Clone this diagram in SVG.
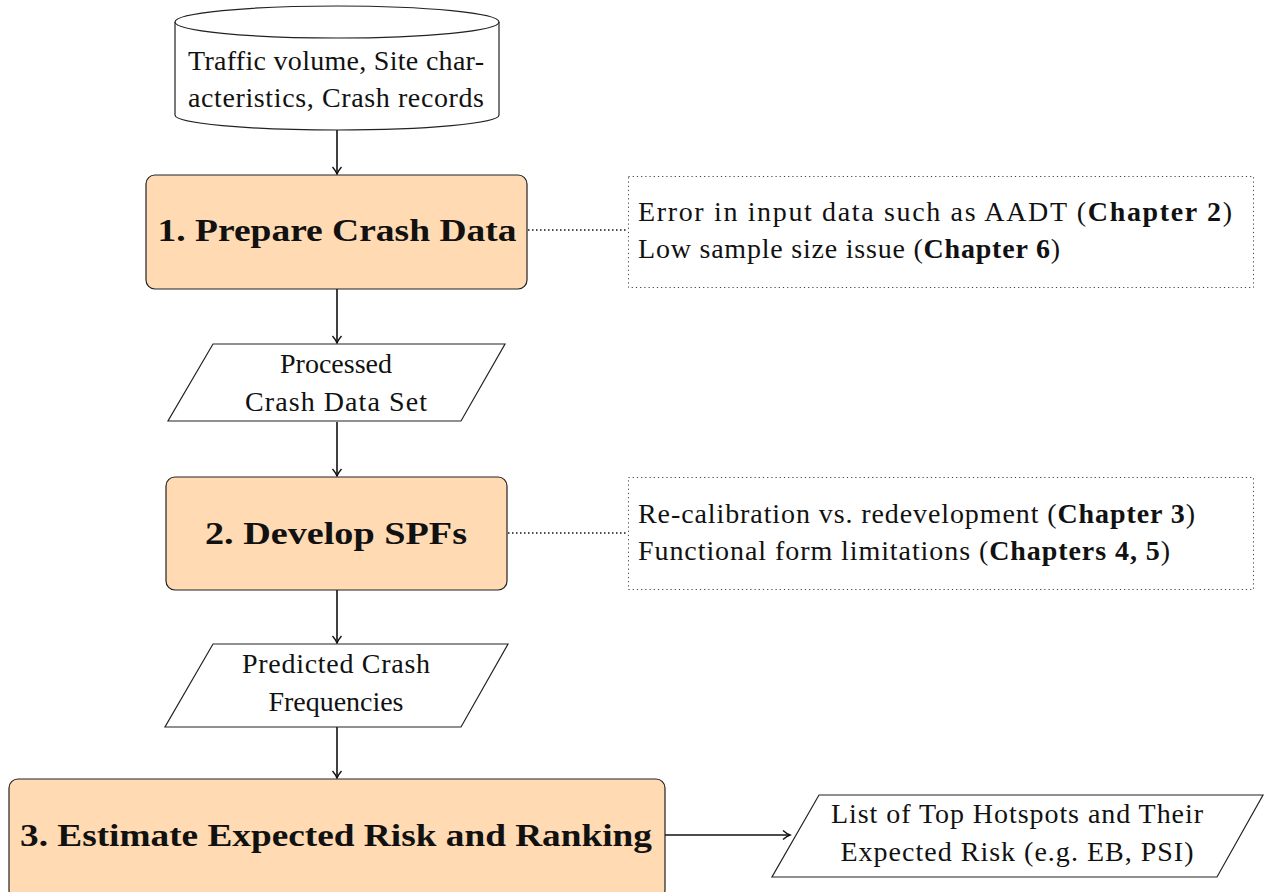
<svg xmlns="http://www.w3.org/2000/svg" width="1264" height="892" viewBox="0 0 1264 892">
<defs>
<style>
.t{font-family:"Liberation Serif","Times New Roman",serif;font-size:28px;fill:#111;}
.b{font-family:"Liberation Serif","Times New Roman",serif;font-size:32px;font-weight:bold;fill:#111;}
.tb{font-weight:bold;}
.shape{fill:#fff;stroke:#222;stroke-width:1.2;}
.proc{fill:#FFDAB2;stroke:#222;stroke-width:1.2;}
.note{fill:none;stroke:#444;stroke-width:1;stroke-dasharray:1.2 3;}
.arrow{fill:none;stroke:#111;stroke-width:1.6;marker-end:url(#ah);}
.dot{fill:none;stroke:#111;stroke-width:1.6;stroke-dasharray:1.5 2.5;}
</style>
<marker id="ah" markerWidth="12" markerHeight="12" refX="10" refY="6" orient="auto" markerUnits="userSpaceOnUse">
<path d="M3,1.5 Q7,5 10,6 Q7,7 3,10.5" fill="none" stroke="#111" stroke-width="1.4"/>
</marker>
</defs>
<rect width="1264" height="892" fill="#fff"/>

<g id="connectors">
<line class="arrow" x1="337" y1="130" x2="337" y2="174"/>
<line class="arrow" x1="337" y1="289" x2="337" y2="343"/>
<line class="arrow" x1="337" y1="422" x2="337" y2="476"/>
<line class="arrow" x1="337" y1="590" x2="337" y2="643"/>
<line class="arrow" x1="337" y1="727" x2="337" y2="778"/>
<line class="arrow" x1="665" y1="835" x2="790" y2="835"/>
<line class="dot" x1="528" y1="230" x2="628" y2="230"/>
<line class="dot" x1="508" y1="533" x2="628" y2="533"/>
</g>

<g id="data">
<path class="shape" d="M175,22 L175,115 A162,15 0 0 0 499,115 L499,22"/>
<ellipse class="shape" cx="337" cy="22" rx="162" ry="16"/>
<text class="t" x="336" y="70" text-anchor="middle" textLength="296" lengthAdjust="spacing">Traffic volume, Site char-</text>
<text class="t" x="336" y="107" text-anchor="middle" textLength="296" lengthAdjust="spacing">acteristics, Crash records</text>
</g>

<g id="step1">
<rect class="proc" x="146" y="175" width="381" height="114" rx="9"/>
<text class="b" x="337" y="241" text-anchor="middle" textLength="359" lengthAdjust="spacingAndGlyphs">1. Prepare Crash Data</text>
</g>

<g id="note1">
<rect class="note" x="628.5" y="176.5" width="625" height="111"/>
<text class="t" x="638" y="221" textLength="594" lengthAdjust="spacing">Error in input data such as AADT (<tspan class="tb">Chapter 2</tspan>)</text>
<text class="t" x="638" y="258" textLength="422" lengthAdjust="spacing">Low sample size issue (<tspan class="tb">Chapter 6</tspan>)</text>
</g>

<g id="processed">
<polygon class="shape" points="213,344 505,344 461,421 168,421"/>
<text class="t" x="336" y="373" text-anchor="middle" textLength="112" lengthAdjust="spacing">Processed</text>
<text class="t" x="336" y="411" text-anchor="middle" textLength="182" lengthAdjust="spacing">Crash Data Set</text>
</g>

<g id="step2">
<rect class="proc" x="166" y="477" width="341" height="113" rx="9"/>
<text class="b" x="336" y="544" text-anchor="middle" textLength="262" lengthAdjust="spacingAndGlyphs">2. Develop SPFs</text>
</g>

<g id="note2">
<rect class="note" x="628.5" y="477.5" width="625" height="112"/>
<text class="t" x="638" y="523" textLength="557" lengthAdjust="spacing">Re-calibration vs. redevelopment (<tspan class="tb">Chapter 3</tspan>)</text>
<text class="t" x="638" y="560" textLength="532" lengthAdjust="spacing">Functional form limitations (<tspan class="tb">Chapters 4, 5</tspan>)</text>
</g>

<g id="predicted">
<polygon class="shape" points="213,644 508,644 461,727 165,727"/>
<text class="t" x="336" y="673" text-anchor="middle" textLength="188" lengthAdjust="spacing">Predicted Crash</text>
<text class="t" x="336" y="711" text-anchor="middle" textLength="135" lengthAdjust="spacing">Frequencies</text>
</g>

<g id="step3">
<rect class="proc" x="9" y="779" width="656" height="120" rx="9"/>
<text class="b" x="336" y="846" text-anchor="middle" textLength="632" lengthAdjust="spacingAndGlyphs">3. Estimate Expected Risk and Ranking</text>
</g>

<g id="output">
<polygon class="shape" points="819,795 1263,795 1217,877 772,877"/>
<text class="t" x="1017" y="823" text-anchor="middle" textLength="372" lengthAdjust="spacing">List of Top Hotspots and Their</text>
<text class="t" x="1017" y="861" text-anchor="middle" textLength="353" lengthAdjust="spacing">Expected Risk (e.g. EB, PSI)</text>
</g>
</svg>
